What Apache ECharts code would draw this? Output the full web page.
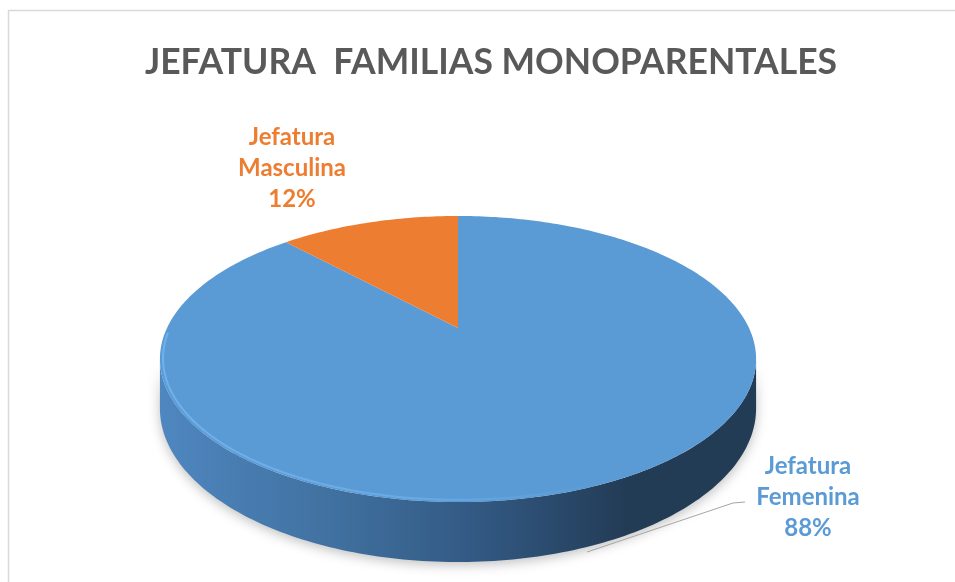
<!DOCTYPE html>
<html>
<head>
<meta charset="utf-8">
<title>Jefatura familias monoparentales</title>
<script src="https://cdn.jsdelivr.net/npm/echarts@6/dist/echarts.min.js"></script>
<style>
  html, body { margin: 0; padding: 0; background: #fff; }
  #main { width: 955px; height: 582px; }
</style>
</head>
<body>
<div id="main"></div>
<script>
// datos
var categories = ['Jefatura Femenina', 'Jefatura Masculina'];
var values = [88, 12];
var colors = ['#5b9bd5', '#ed7d31'];

// layout del pastel 3D (perspectiva simple)
var cx = 458, cy = 328;     // centro de la tapa
var A = 291, B = 136.3;     // radios
var k = 0.2168;             // factor de perspectiva
var h0 = 47;                // grosor
var labelLayout = [
  { x: 808, y: 497, line: [[745, 502], [733, 503], [587, 552]] },
  { x: 292, y: 168 }
];

var total = values.reduce(function (a, b) { return a + b; }, 0);

// angulo en grados, horario desde las 12
function proj(phi, r, down) {
  var t = phi * Math.PI / 180;
  var u = Math.sin(t) * r, v = -Math.cos(t) * r;
  var w = 1 - k * v;
  return [cx + A * u / w, cy + B * v / w + (down || 0) * h0 / w];
}

function arc(a0, a1, r, down) {
  var pts = [];
  var n = Math.max(2, Math.ceil(Math.abs(a1 - a0)));
  for (var i = 0; i <= n; i++) {
    pts.push(proj(a0 + (a1 - a0) * i / n, r, down));
  }
  return pts;
}

// limites visibles del costado
var sideFrom = Math.acos(-k) * 180 / Math.PI;
var sideTo = 360 - sideFrom;

function renderItem(params, api) {
  var i = params.dataIndex;
  var start = 0;
  for (var j = 0; j < i; j++) start += values[j];
  var a0 = start / total * 360;
  var a1 = (start + values[i]) / total * 360;
  var children = [];

  // costado frontal
  var s0 = Math.max(a0, sideFrom), s1 = Math.min(a1, sideTo);
  if (s1 > s0) {
    var top = arc(s0, s1, 1, 0);
    var bottom = arc(s1, s0, 1, 1);
    children.push({
      type: 'polygon',
      z2: 1,
      shape: { points: top.concat(bottom) },
      style: {
        fill: {
          type: 'linear', x: cx - A * 1.03, y: 0, x2: cx + A * 1.03, y2: 0, global: true,
          colorStops: [
            { offset: 0, color: '#4f87c0' },
            { offset: 0.3, color: '#40709f' },
            { offset: 0.55, color: '#315780' },
            { offset: 0.78, color: '#233c56' },
            { offset: 1, color: '#233c55' }
          ]
        },
        shadowBlur: 12,
        shadowColor: 'rgba(0,0,0,0.25)',
        shadowOffsetY: 3
      }
    });
  }

  // tapa
  children.push({
    type: 'polygon',
    z2: 10,
    shape: { points: [[cx, cy]].concat(arc(a0, a1, 1, 0)) },
    style: { fill: colors[i] }
  });

  // brillo del borde
  var r0 = Math.max(a0, 150), r1 = Math.min(a1, 268);
  if (r1 > r0) {
    children.push({
      type: 'polyline',
      z2: 11,
      shape: { points: arc(r0, r1, 0.99, 0) },
      style: {
        stroke: {
          type: 'linear', x: cx - A, y: 0, x2: cx + A * 0.5, y2: 0, global: true,
          colorStops: [
            { offset: 0, color: '#6fb1ec' },
            { offset: 0.6, color: '#6aaae4' },
            { offset: 1, color: colors[i] }
          ]
        },
        lineWidth: 2,
        fill: null
      }
    });
  }

  // etiqueta
  var lab = labelLayout[i];
  var pct = Math.round(values[i] / total * 100);
  children.push({
    type: 'text',
    z2: 20,
    x: lab.x,
    y: lab.y,
    style: {
      text: categories[i].replace(' ', '\n') + '\n' + pct + '%',
      fill: colors[i],
      font: 'bold 24px Lato, "Open Sans", sans-serif',
      lineHeight: 31,
      align: 'center',
      verticalAlign: 'middle'
    }
  });
  if (lab.line) {
    children.push({
      type: 'polyline',
      z2: 20,
      shape: { points: lab.line },
      style: { stroke: '#a6a6a6', lineWidth: 1, fill: null }
    });
  }

  return { type: 'group', children: children };
}

var myChart = echarts.init(document.getElementById('main'));
var option = {
  backgroundColor: '#fff',
  title: {
    text: 'JEFATURA  FAMILIAS MONOPARENTALES',
    left: 486,
    top: 40,
    textAlign: 'center',
    textStyle: {
      fontFamily: 'Lato, "Open Sans", sans-serif',
      fontWeight: 'bold',
      fontSize: 35.5,
      color: '#595959'
    }
  },
  graphic: [{
    type: 'rect',
    shape: { x: 8.5, y: 10.5, width: 1200, height: 1200 },
    style: { fill: null, stroke: '#d9d9d9', lineWidth: 1.5 },
    silent: true,
    z: -1
  }],
  series: [{
    type: 'custom',
    coordinateSystem: 'none',
    renderItem: renderItem,
    data: values.map(function (v, i) { return { name: categories[i], value: v }; })
  }]
};
myChart.setOption(option);
</script>
</body>
</html>
